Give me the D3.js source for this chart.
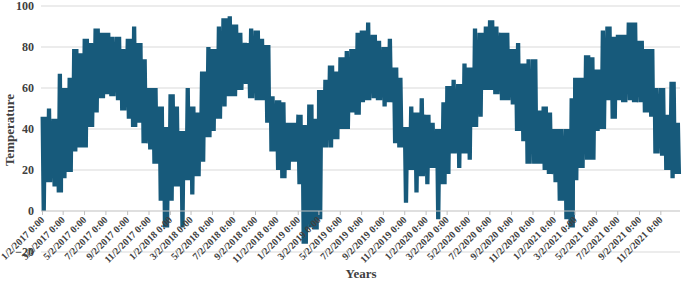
<!DOCTYPE html>
<html>
<head>
<meta charset="utf-8">
<script src="https://cdn.jsdelivr.net/npm/d3@7"></script>
<style>
    body { margin: 0; background: #fff; }
    #chart-area { width: 685px; height: 281px; }
    .axis text, .axis-label { font-family: "Times New Roman", "Liberation Serif", serif; font-weight: bold; fill: #404040; }
</style>
</head>
<body>
<div id="chart-area"></div>
<script>
// Half-month readings (1st half / 2nd half of every month), Jan 2017 .. Dec 2021
let startYear = 2017;
let highs = [
    46, 50, 45, 67, 60, 65, 79, 77, 84, 82, 89, 87, 87, 85, 85, 79, 84, 90, 82, 74,
    60, 60, 51, 41, 57, 51, 39, 60, 51, 48, 68, 80, 79, 90, 94, 95, 91, 87, 82, 89,
    88, 84, 81, 56, 54, 53, 43, 43, 47, 42, 52, 45, 59, 64, 71, 68, 75, 78, 79, 87,
    88, 92, 86, 83, 80, 84, 70, 65, 41, 51, 48, 55, 47, 43, 40, 53, 61, 64, 62, 72,
    70, 89, 87, 90, 93, 90, 87, 87, 79, 82, 72, 74, 74, 49, 51, 48, 40, 40, 40, 55,
    65, 65, 76, 75, 69, 88, 90, 85, 86, 86, 92, 92, 83, 79, 79, 60, 60, 47, 63, 43
];
let lows = [
    0, 14, 12, 9, 16, 19, 29, 31, 31, 41, 48, 55, 57, 56, 54, 49, 45, 41, 43, 33,
    30, 23, 5, -8, 5, 12, -8, 15, 8, 17, 24, 36, 39, 45, 51, 56, 56, 59, 62, 55,
    54, 54, 43, 29, 20, 16, 20, 24, 13, -16, -8, -9, -4, 31, 31, 35, 40, 40, 48, 47,
    53, 54, 55, 54, 51, 53, 33, 31, 4, 20, 9, 17, 13, 21, -4, 13, 18, 28, 21, 28,
    25, 41, 46, 59, 59, 57, 54, 54, 52, 39, 34, 23, 23, 23, 20, 18, 14, 5, -4, -8,
    15, 21, 25, 25, 39, 40, 54, 45, 54, 53, 54, 53, 53, 48, 46, 28, 27, 20, 16, 18
];
let yTicks = [-20, 0, 20, 40, 60, 80, 100];

class LineGraph {
    constructor(parentElement) {
        this.parentElement = parentElement;
        this.initVis();
    }

    initVis() {
        let vis = this;

        vis.margin = {top: 6, right: 3, bottom: 29, left: 42};
        vis.width = 685 - vis.margin.left - vis.margin.right;
        vis.height = 281 - vis.margin.top - vis.margin.bottom;

        vis.svg = d3.select("#" + vis.parentElement).append("svg")
            .attr("width", 685)
            .attr("height", 281)
            .append("g")
            .attr("transform", `translate(${vis.margin.left}, ${vis.margin.top})`);

        vis.x = d3.scaleTime()
            .domain([new Date(2017, 0, 2), new Date(2021, 11, 31)])
            .range([0, vis.width - 1]);
        vis.y = d3.scaleLinear()
            .domain([-20, 100])
            .range([vis.height, 0]);

        // Gridlines
        vis.svg.append("g")
            .selectAll("line")
            .data(yTicks.filter(d => d !== 0))
            .enter()
            .append("line")
            .attr("x1", -1)
            .attr("x2", vis.width - 2)
            .attr("y1", d => vis.y(d))
            .attr("y2", d => vis.y(d))
            .attr("stroke", "#d9d9d9")
            .attr("stroke-width", 1);

        // Y axis (labels only)
        vis.yAxisGroup = vis.svg.append("g")
            .attr("class", "y-axis axis")
            .call(d3.axisLeft(vis.y).tickValues(yTicks).tickSize(0).tickPadding(8));
        vis.yAxisGroup.select(".domain").remove();
        vis.yAxisGroup.selectAll("text").style("font-size", "12px");

        vis.wrangleData();
    }

    wrangleData() {
        let vis = this;

        // each half-month swings between its high and low reading (hourly data is this dense)
        vis.displayData = [];
        let n = 0;
        highs.forEach((h, i) => {
            let year = startYear + Math.floor(i / 24);
            let month = Math.floor((i % 24) / 2);
            let start = new Date(year, month, (i % 2 === 0) ? 1 : 16);
            for (let j = 0; j < 5; j++, n++) {
                vis.displayData.push({
                    date: d3.timeHour.offset(start, j * 72),
                    value: (n % 2 === 0) ? h : lows[i]
                });
            }
        });

        vis.updateVis();
    }

    updateVis() {
        let vis = this;

        let line = d3.line()
            .x(d => vis.x(d.date))
            .y(d => vis.y(d.value));

        vis.svg.append("path")
            .datum(vis.displayData)
            .attr("fill", "none")
            .attr("stroke", "#175a7b")
            .attr("stroke-width", 2.2)
            .attr("stroke-linejoin", "bevel")
            .attr("d", line);

        // X axis sits on the zero line
        let tickDates = [];
        for (let yr = 2017; yr <= 2021; yr++) {
            for (let m = 0; m < 12; m += 2) tickDates.push(new Date(yr, m, 2));
        }
        vis.xAxisGroup = vis.svg.append("g")
            .attr("class", "x-axis axis")
            .attr("transform", `translate(0, ${vis.y(0)})`)
            .call(d3.axisBottom(vis.x)
                .tickValues(tickDates)
                .tickSize(4)
                .tickFormat(d => `${d.getMonth() + 1}/${d.getDate()}/${d.getFullYear()} 0:00`));
        vis.xAxisGroup.select(".domain")
            .attr("stroke", "#bfbfbf")
            .attr("d", `M-1,0H${vis.width - 2}`);
        vis.xAxisGroup.selectAll(".tick line").attr("stroke", "#bfbfbf");
        vis.xAxisGroup.selectAll("text")
            .style("font-size", "10px")
            .style("text-anchor", "end")
            .attr("dy", "0.35em")
            .attr("transform", "rotate(-45)")
            .attr("x", -5)
            .attr("y", 5);

        // Axis titles
        vis.svg.append("text")
            .attr("class", "axis-label")
            .attr("text-anchor", "middle")
            .attr("x", 319)
            .attr("y", 272)
            .style("font-size", "13px")
            .text("Years");

        vis.svg.append("g")
            .attr("transform", `translate(-28, ${124})`)
            .append("text")
            .attr("class", "axis-label")
            .attr("text-anchor", "middle")
            .attr("transform", "rotate(-90)")
            .style("font-size", "13px")
            .text("Temperature");
    }
}

new LineGraph("chart-area");
</script>
</body>
</html>
